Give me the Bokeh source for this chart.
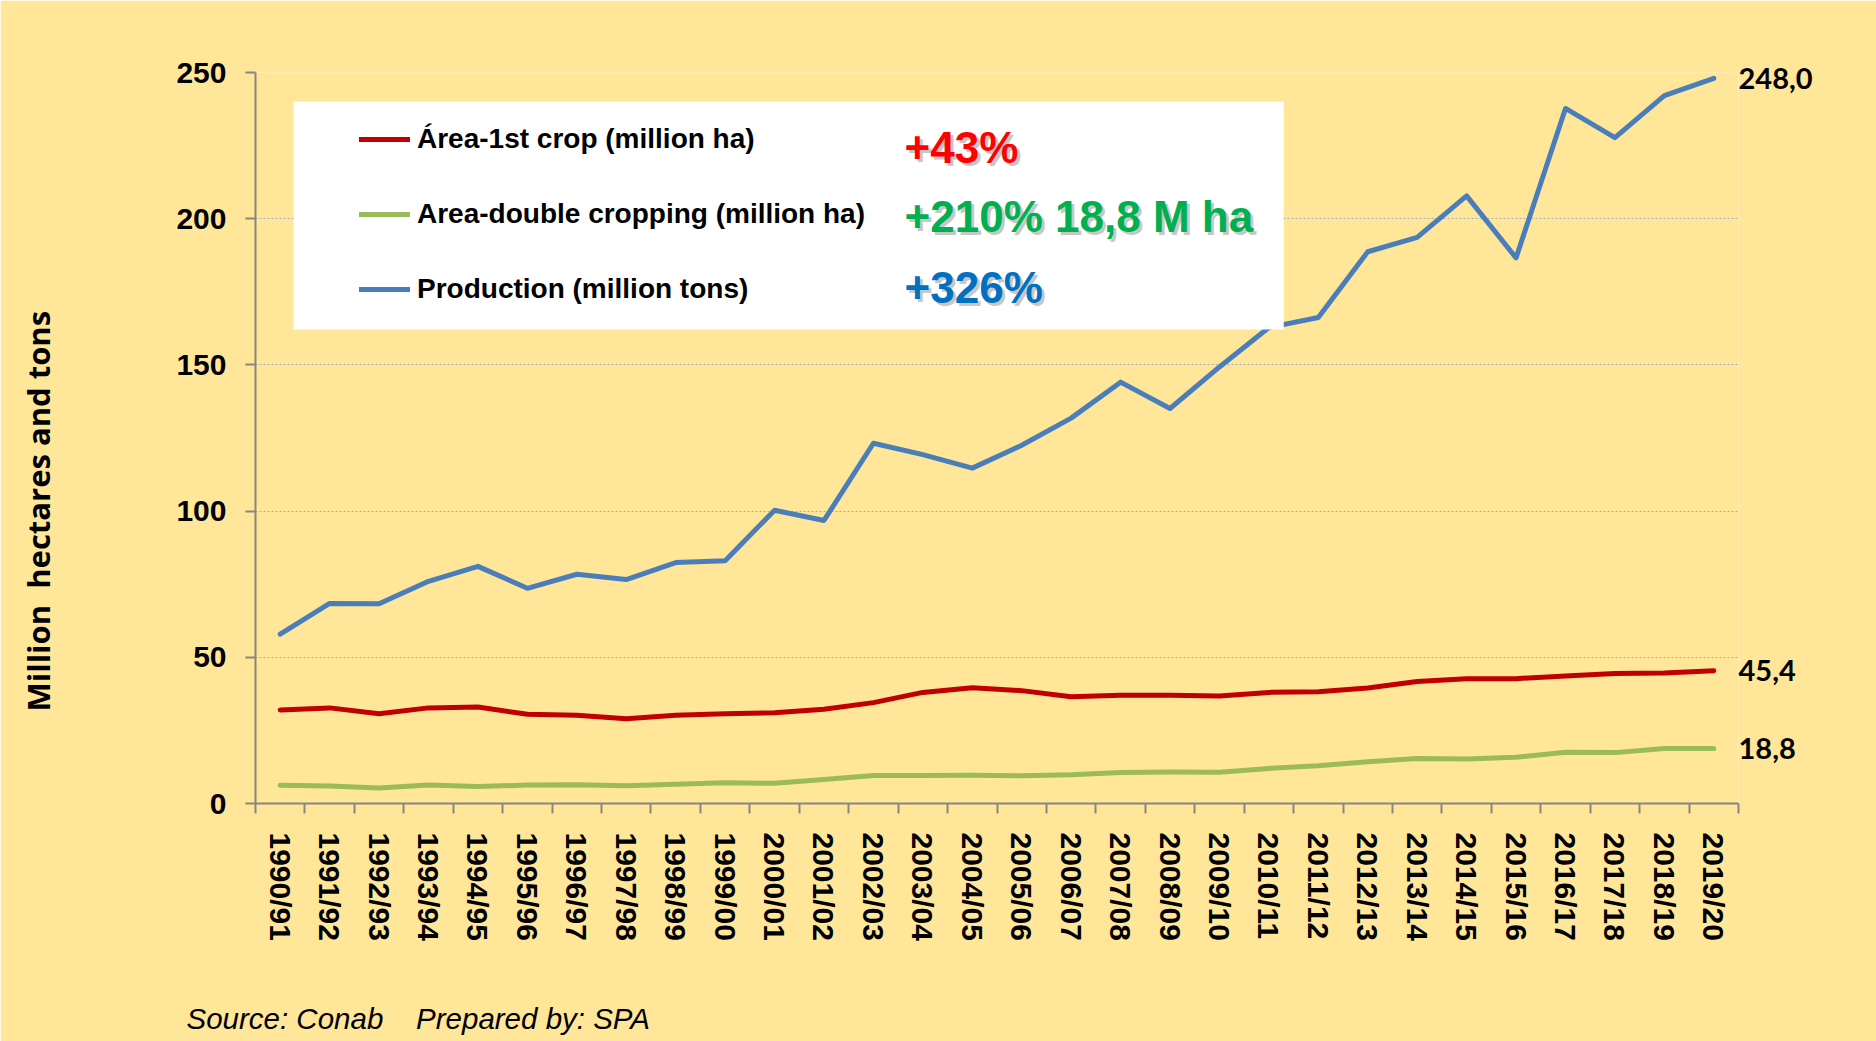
import numpy as np
from bokeh.plotting import figure
from bokeh.models import (Range1d, FixedTicker, Label, BoxAnnotation, Legend,
                          LegendItem, ColumnDataSource, LinearAxis, Title,
                          CustomJSTickFormatter)
from bokeh.embed import file_html
from bokeh.resources import INLINE

# ---------------- data ----------------
seasons = ["1990/91", "1991/92", "1992/93", "1993/94", "1994/95", "1995/96",
           "1996/97", "1997/98", "1998/99", "1999/00", "2000/01", "2001/02",
           "2002/03", "2003/04", "2004/05", "2005/06", "2006/07", "2007/08",
           "2008/09", "2009/10", "2010/11", "2011/12", "2012/13", "2013/14",
           "2014/15", "2015/16", "2016/17", "2017/18", "2018/19", "2019/20"]

area_first_crop = [32.0, 32.7, 30.7, 32.7, 33.0, 30.5, 30.2, 29.0, 30.2, 30.7,
                   31.0, 32.2, 34.5, 38.0, 39.6, 38.6, 36.5, 37.0, 37.0, 36.8,
                   38.0, 38.2, 39.5, 41.7, 42.7, 42.7, 43.6, 44.5, 44.6, 45.4]

area_double_cropping = [6.2, 6.0, 5.3, 6.3, 5.8, 6.3, 6.4, 6.1, 6.6, 7.1,
                        6.9, 8.2, 9.6, 9.6, 9.7, 9.5, 9.8, 10.6, 10.8, 10.7,
                        12.0, 12.9, 14.3, 15.4, 15.2, 15.8, 17.5, 17.4, 18.8, 18.8]

production = [57.9, 68.4, 68.3, 76.0, 81.1, 73.6, 78.4, 76.6, 82.4, 83.0,
              100.3, 96.8, 123.2, 119.3, 114.7, 122.5, 131.8, 144.1, 135.1, 149.3,
              162.8, 166.2, 188.7, 193.6, 207.8, 186.6, 237.7, 227.7, 242.1, 248.0]

series_names = ["Área-1st crop (million ha)",
                "Area-double cropping (million ha)",
                "Production (million tons)"]
growth_labels = ["+43%", "+210% 18,8 M ha", "+326%"]
y_ticks = [0, 50, 100, 150, 200, 250]
y_title = "Million\u00a0 hectares and tons"
source_note = "Source: Conab\u00a0\u00a0\u00a0\u00a0Prepared by: SPA"

# ---------------- styles ----------------
BG = "#FFE699"
RED = "#C00000"
GREEN = "#9BBB59"
BLUE = "#4A7EBB"
AXIS = "#868686"
FONT = "Liberation Sans"

n = len(seasons)
x = np.arange(n)

src = ColumnDataSource(dict(x=x, first=area_first_crop,
                            double=area_double_cropping, prod=production))

p = figure(frame_width=1483, frame_height=731,
           min_border_left=255, min_border_right=138,
           min_border_top=72, min_border_bottom=238,
           x_range=Range1d(-0.5, n - 0.5), y_range=Range1d(0, 250),
           output_backend="svg", toolbar_location=None,
           background_fill_color=BG, border_fill_color=BG)
p.outline_line_color = None

# x axis: labels at category centres, ticks at category boundaries
p.xaxis.ticker = FixedTicker(ticks=list(range(n)),
                             minor_ticks=[i - 0.5 for i in range(n + 1)])
p.xaxis.major_label_overrides = {i: s for i, s in enumerate(seasons)}
p.xaxis.major_label_orientation = "vertical"
p.xaxis.major_tick_line_color = None
p.xaxis.major_tick_out = 10
p.xaxis.major_tick_in = 0
p.xaxis.minor_tick_line_color = AXIS
p.xaxis.minor_tick_line_width = 2
p.xaxis.minor_tick_out = 10
p.xaxis.minor_tick_in = 0
p.xaxis.major_label_standoff = 19

p.yaxis.ticker = FixedTicker(ticks=y_ticks)
p.yaxis.major_tick_out = 10
p.yaxis.major_tick_in = 0
p.yaxis.major_tick_line_color = AXIS
p.yaxis.major_tick_line_width = 2
p.yaxis.minor_tick_line_color = None
p.yaxis.major_label_standoff = 19

for ax in (p.xaxis, p.yaxis):
    ax.axis_line_color = AXIS
    ax.axis_line_width = 2
    ax.major_label_text_font = FONT
    ax.major_label_text_font_style = "bold"
    ax.major_label_text_font_size = "30px"
    ax.major_label_text_color = "black"

p.xgrid.visible = False
p.ygrid.ticker = FixedTicker(ticks=y_ticks)
p.ygrid.grid_line_color = "#9DB0C8"
p.ygrid.grid_line_dash = "2 2"
p.ygrid.grid_line_width = 1

# lines
common = dict(line_width=5, line_cap="round", line_join="round", source=src)
r_red = p.line("x", "first", line_color=RED, **common)
r_green = p.line("x", "double", line_color=GREEN, **common)
r_blue = p.line("x", "prod", line_color=BLUE, **common)

# end-value labels: a right axis ticked at the last value of each series
end_axis = LinearAxis(
    ticker=FixedTicker(ticks=[production[-1], area_first_crop[-1],
                              area_double_cropping[-1]]),
    formatter=CustomJSTickFormatter(code="return tick.toFixed(1).replace('.', ',')"),
    axis_line_color=None, major_tick_line_color=None, minor_tick_line_color=None,
    major_tick_out=0, major_tick_in=0, major_label_standoff=0,
    major_label_text_font="Lato", major_label_text_font_style="bold",
    major_label_text_font_size="29px", major_label_text_color="black")
p.add_layout(end_axis, "right")


def spacer_axis(size):
    """Blank axis (background-coloured tick, empty label) that only reserves space."""
    return LinearAxis(ticker=FixedTicker(ticks=[0]), major_label_overrides={0: ""},
                      axis_line_color=None, major_tick_line_color=BG,
                      minor_tick_line_color=None, major_tick_out=size,
                      major_tick_in=0, major_label_standoff=0,
                      major_label_text_font_size="1px")


# white legend panel
p.add_layout(BoxAnnotation(left=0.27, right=20.30, bottom=162.1, top=240.1,
                           fill_color="white", fill_alpha=1.0, line_color=None))

legend = Legend(items=[LegendItem(label=series_names[0], renderers=[r_red]),
                       LegendItem(label=series_names[1], renderers=[r_green]),
                       LegendItem(label=series_names[2], renderers=[r_blue])],
                location=(104, 494), orientation="vertical",
                background_fill_alpha=0, border_line_color=None,
                label_text_font=FONT, label_text_font_style="bold",
                label_text_font_size="28px", label_text_color="black",
                glyph_width=51, glyph_height=40, label_height=40,
                label_standoff=7, spacing=35, padding=10, margin=0)
p.add_layout(legend)

# growth annotations with soft shadow
growth_colors = ["#FF0000", "#00B050", "#0070C0"]
growth_y = [224.2, 200.6, 176.6]
for txt, col, yy in zip(growth_labels, growth_colors, growth_y):
    p.add_layout(Label(x=12.63, y=yy, text=txt, x_offset=3, y_offset=-3,
                       text_font=FONT, text_font_style="bold", text_font_size="44px",
                       text_color="#808080", text_alpha=0.45,
                       text_align="left", text_baseline="middle"))
    p.add_layout(Label(x=12.63, y=yy, text=txt,
                       text_font=FONT, text_font_style="bold", text_font_size="44px",
                       text_color=col, text_align="left", text_baseline="middle"))

# y-axis title, pushed outward by a blank spacer axis
p.add_layout(spacer_axis(115), "left")
p.add_layout(Title(text=y_title, align="left", offset=92, standoff=0,
                   text_font="Open Sans", text_font_style="bold",
                   text_font_size="31px", text_color="black"), "left")

# source note, below the category labels
p.add_layout(spacer_axis(56), "below")
p.add_layout(Title(text=source_note, align="left", offset=-69, standoff=0,
                   text_font=FONT, text_font_style="italic",
                   text_font_size="29.5px", text_color="black"), "below")

open("out.html", "w").write(file_html(p, INLINE))
